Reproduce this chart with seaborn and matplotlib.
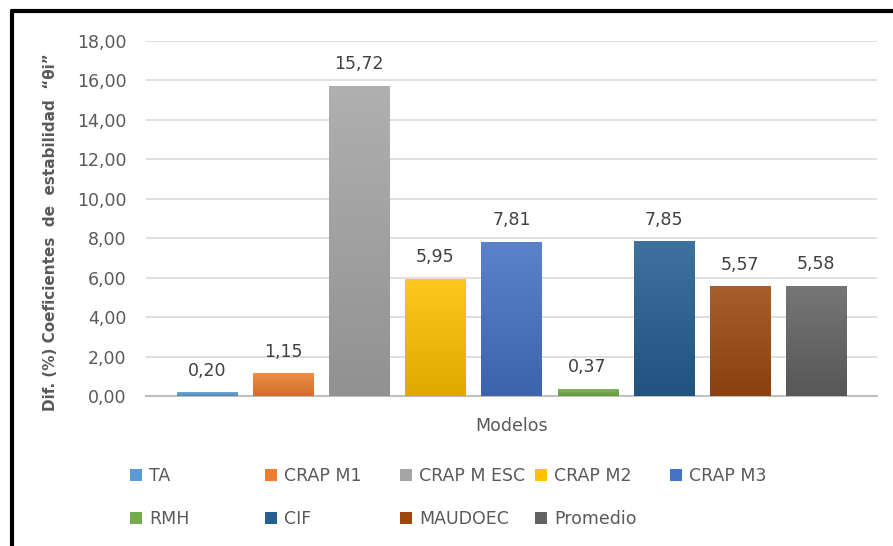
import matplotlib
matplotlib.use("Agg")
import matplotlib.pyplot as plt
import seaborn as sns
import numpy as np
import pandas as pd
from matplotlib.lines import Line2D
from matplotlib.patches import Patch
from matplotlib.colors import to_rgb

modelos = ["TA", "CRAP M1", "CRAP M ESC", "CRAP M2", "CRAP M3",
           "RMH", "CIF", "MAUDOEC", "Promedio"]
valores = [0.20, 1.15, 15.72, 5.95, 7.81, 0.37, 7.85, 5.57, 5.58]
colores = ["#5B9BD5", "#ED7D31", "#A5A5A5", "#FFC000", "#4472C4",
           "#70AD47", "#255E91", "#9E480E", "#636363"]
yticks = [0, 2, 4, 6, 8, 10, 12, 14, 16, 18]

df = pd.DataFrame({"modelo": modelos, "valor": valores})
gris = "#595959"

sns.set_theme(style="white")
plt.rcParams["font.family"] = ["DejaVu Sans"]

fig = plt.figure(figsize=(8.93, 5.46), dpi=100)
ax = fig.add_axes([0.1635, 0.2747, 0.8185, 0.6503])

sns.barplot(data=df, x="modelo", y="valor", hue="modelo", order=modelos,
            hue_order=modelos, palette=colores, legend=False, width=0.79,
            saturation=1, ax=ax, zorder=3)

# degradado vertical en cada barra
for patch, c in zip(ax.patches, colores):
    x0, y0 = patch.get_x(), patch.get_y()
    w, h = patch.get_width(), patch.get_height()
    base = np.array(to_rgb(c))
    top = base + (1 - base) * 0.12
    bot = base * 0.88
    t = np.linspace(0, 1, 64)[:, None]
    grad = (top * (1 - t) + bot * t)[:, None, :]
    im = ax.imshow(grad, extent=[x0, x0 + w, y0, y0 + h], aspect="auto",
                   origin="upper", zorder=3)
    im.set_clip_path(patch)
    patch.set_facecolor("none")
    patch.set_edgecolor("none")

for patch, v in zip(ax.patches, valores):
    ax.annotate(f"{v:.2f}".replace(".", ","),
                (patch.get_x() + patch.get_width() / 2, patch.get_height()),
                xytext=(0, 9), textcoords="offset points", ha="center",
                va="bottom", fontsize=12.5, color="#404040")

ax.set_xlim(-0.8, 8.8)
ax.set_ylim(0, 18)
ax.set_yticks(yticks)
ax.set_yticklabels([f"{t:.2f}".replace(".", ",") for t in yticks],
                   fontsize=12.5, color=gris)
ax.set_xticks([4])
ax.set_xticklabels(["Modelos"], fontsize=12.5, color=gris)
ax.tick_params(axis="both", length=0)
ax.tick_params(axis="x", pad=15)
ax.tick_params(axis="y", pad=14)
ax.grid(axis="y", color="#D9D9D9", linewidth=1.2, zorder=0)
ax.set_axisbelow(True)
for s in ["top", "right", "left"]:
    ax.spines[s].set_visible(False)
ax.spines["bottom"].set_color("#BFBFBF")
ax.spines["bottom"].set_linewidth(1.5)
ax.set_xlabel("")
ax.set_ylabel("Dif. (%) Coeficientes  de  estabilidad  \u201c\u03b8i\u201d",
              fontsize=11, fontweight="bold", color=gris)
ax.yaxis.set_label_coords(-0.121, 0.462)

# leyenda: 5 columnas de ancho fijo, llenado por filas
col_x = [130, 265, 400, 535, 670]
for j, x in enumerate(col_x):
    idx = [i for i in (j, j + 5) if i < len(modelos)]
    handles = [Patch(facecolor=colores[i], edgecolor="none") for i in idx]
    labels = [modelos[i] for i in idx]
    leg = fig.legend(handles, labels, loc="upper left",
                     bbox_to_anchor=(x / 893, 1 - 467 / 546), frameon=False,
                     fontsize=12.5, labelcolor=gris, handlelength=0.7,
                     handleheight=0.7, handletextpad=0.4, labelspacing=1.45,
                     borderpad=0, borderaxespad=0)

# marco
fig.add_artist(Line2D([0.0135, 0.0135], [0, 1 - 11 / 546], color="black",
                      linewidth=3))
fig.add_artist(Line2D([0.0135, 1], [1 - 11 / 546, 1 - 11 / 546],
                      color="black", linewidth=3))

fig.savefig("out.png", dpi=100)
